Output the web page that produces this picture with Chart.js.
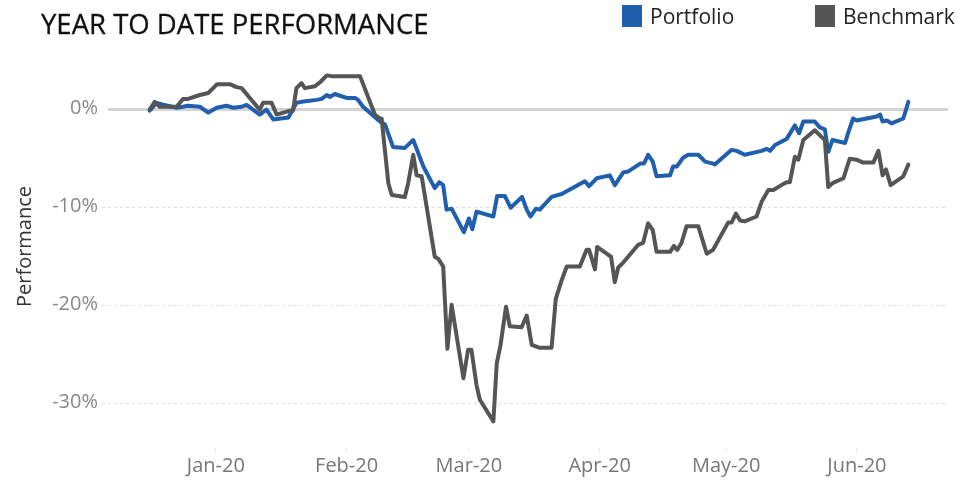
<!DOCTYPE html>
<html>
<head>
<meta charset="utf-8">
<script src="https://cdn.jsdelivr.net/npm/chart.js@4.4.1/dist/chart.umd.min.js"></script>
<style>
    html, body { margin: 0; padding: 0; background: #fff; }
    #wrap { position: relative; width: 972px; height: 480px; font-family: "Open Sans", sans-serif; }
    #chart { position: absolute; left: 0; top: 0; }
    #title { position: absolute; left: 41px; top: 5px; font-size: 27.5px; color: #111; white-space: nowrap; -webkit-text-stroke: 0.3px #111; }
    .key { position: absolute; top: 2px; font-size: 21px; color: #222; display: flex; align-items: center; white-space: nowrap; }
    .key span { display: inline-block; width: 20px; height: 22px; margin-right: 8px; }
</style>
</head>
<body>
<div id="wrap">
    <canvas id="chart" width="972" height="480"></canvas>
    <div id="title">YEAR TO DATE PERFORMANCE</div>
    <div class="key" style="left:622px"><span id="keyPortfolio"></span>Portfolio</div>
    <div class="key" style="left:815px"><span id="keyBenchmark"></span>Benchmark</div>
</div>
<script>
// x = days since 1 Jan 2020, y = % performance year to date
const portfolioDays = [
    -15.7, -14.1, -12.5, -9.3, -7.8, -6.6, -3.8, -1.8, 0.2, 2.5,
    4.1, 6.1, 7.3, 10.4, 12.0, 13.6, 17.2, 19.1, 20.3, 23.9,
    25.1, 26.3, 27.0, 28.2, 31.0, 33.0, 33.7, 34.9, 38.9, 40.1,
    42.0, 44.8, 46.8, 49.2, 51.9, 53.0, 53.9, 54.7, 55.9, 58.8,
    60.0, 60.8, 61.8, 65.8, 66.7, 68.5, 69.9, 72.6, 73.7, 74.6,
    75.9, 76.8, 79.6, 81.2, 82.0, 87.5, 88.5, 90.3, 93.4, 94.6,
    96.6, 97.8, 100.6, 101.5, 102.5, 103.6, 104.5, 107.7, 108.4, 109.3,
    110.8, 112.0, 114.4, 116.0, 117.9, 118.3, 122.3, 123.5, 125.4, 129.4,
    130.6, 131.4, 132.6, 135.3, 137.3, 138.3, 139.3, 142.0, 143.2, 144.4,
    145.2, 146.2, 149.2, 149.9, 151.1, 151.9, 156.7, 157.5, 158.1, 159.1,
    160.2, 163.0, 164.2,
];
const portfolioValues = [
    -0.2, 0.6, 0.4, 0.1, 0.2, 0.3, 0.2, -0.4, 0.1, 0.3,
    0.1, 0.2, 0.4, -0.6, -0.1, -1.1, -0.9, 0.6, 0.7, 0.9,
    1.0, 1.4, 1.2, 1.5, 1.1, 1.1, 0.9, 0.2, -1.3, -1.6,
    -3.9, -4.0, -3.2, -5.9, -8.1, -7.5, -7.8, -10.3, -10.2, -12.6,
    -11.2, -12.3, -10.5, -11.0, -8.9, -8.9, -10.1, -9.0, -10.3, -11.0,
    -10.2, -10.3, -9.0, -8.8, -8.7, -7.4, -7.9, -7.1, -6.8, -7.8,
    -6.5, -6.4, -5.6, -5.6, -4.7, -5.4, -6.9, -6.8, -5.9, -5.9,
    -5.0, -4.7, -4.7, -5.4, -5.6, -5.7, -4.2, -4.3, -4.7, -4.3,
    -4.1, -4.3, -3.7, -3.1, -1.7, -2.5, -1.3, -1.3, -1.9, -2.1,
    -4.4, -3.2, -3.5, -2.5, -1.0, -1.2, -0.8, -0.6, -1.3, -1.2,
    -1.5, -1.0, 0.7,
];
const benchmarkDays = [
    -15.7, -14.5, -13.3, -9.3, -7.8, -6.6, -3.8, -1.8, 0.3, 3.3,
    4.9, 6.1, 10.4, 11.2, 13.2, 14.4, 17.6, 18.3, 19.1, 20.3,
    21.1, 23.5, 24.7, 26.3, 27.8, 33.7, 34.2, 37.7, 38.9, 39.3,
    40.9, 41.7, 44.8, 45.6, 46.8, 47.6, 48.8, 51.9, 52.7, 53.9,
    54.9, 55.9, 58.7, 59.8, 60.6, 61.8, 62.6, 65.8, 66.6, 67.5,
    68.8, 69.7, 72.5, 73.7, 74.9, 76.8, 79.6, 80.6, 82.0, 83.2,
    86.3, 87.9, 88.5, 89.9, 90.4, 93.0, 93.7, 94.6, 95.4, 96.6,
    100.1, 101.3, 102.5, 103.6, 104.5, 107.7, 108.6, 109.4, 110.4, 111.6,
    114.4, 116.4, 117.9, 121.5, 122.3, 123.3, 124.3, 125.4, 128.2, 129.4,
    131.0, 132.2, 133.7, 135.3, 136.1, 137.3, 138.1, 139.3, 142.0, 144.4,
    145.2, 146.2, 148.8, 150.3, 151.9, 153.5, 155.9, 157.1, 158.1, 158.9,
    160.0, 163.0, 164.2,
];
const benchmarkValues = [
    -0.1, 0.7, 0.2, 0.2, 1.0, 1.0, 1.4, 1.6, 2.5, 2.5,
    2.2, 2.1, -0.1, 0.6, 0.6, -0.6, -0.2, -0.2, 2.1, 2.6,
    2.1, 2.3, 2.7, 3.4, 3.3, 3.3, 3.3, -0.6, -1.0, -1.0,
    -7.6, -8.8, -9.0, -7.6, -4.7, -6.8, -6.9, -15.1, -15.3, -16.1,
    -24.5, -20.0, -27.5, -24.6, -24.6, -28.2, -29.7, -31.9, -26.0, -24.1,
    -20.2, -22.2, -22.3, -21.1, -24.1, -24.4, -24.4, -19.4, -17.5, -16.1,
    -16.1, -14.4, -14.4, -16.4, -14.1, -14.9, -15.1, -17.7, -16.2, -15.7,
    -13.9, -13.7, -11.7, -12.4, -14.6, -14.6, -14.0, -14.4, -13.7, -12.0,
    -12.0, -14.8, -14.4, -11.6, -11.6, -10.7, -11.4, -11.5, -11.0, -9.5,
    -8.3, -8.3, -7.9, -7.5, -7.5, -4.9, -5.2, -3.2, -2.2, -3.2,
    -8.0, -7.6, -7.1, -5.1, -5.2, -5.5, -5.5, -4.3, -6.8, -6.2,
    -7.8, -6.9, -5.7,
];

const monthTicks = [0, 31, 60, 91, 121, 152];
const monthLabels = ['Jan-20', 'Feb-20', 'Mar-20', 'Apr-20', 'May-20', 'Jun-20'];
const yTicks = [0, -10, -20, -30];

const COLORS = {
    portfolio: '#1f5fad',
    benchmark: '#555555',
};

document.getElementById('keyPortfolio').style.background = COLORS.portfolio;
document.getElementById('keyBenchmark').style.background = COLORS.benchmark;

const toPoints = (days, values) => days.map((d, i) => ({ x: d, y: values[i] }));

// zero line solid, other levels dashed
const gridLines = {
    id: 'gridLines',
    beforeDatasetsDraw(chart) {
        const { ctx, chartArea, scales: { y } } = chart;
        ctx.save();
        yTicks.forEach((v) => {
            const py = Math.round(y.getPixelForValue(v)) + 0.5;
            ctx.beginPath();
            if (v === 0) {
                ctx.setLineDash([]);
                ctx.lineWidth = 3;
                ctx.strokeStyle = '#d4d4d4';
                ctx.moveTo(chartArea.left + 6, py);
            } else {
                ctx.setLineDash([3, 3]);
                ctx.lineWidth = 1;
                ctx.strokeStyle = '#dcdcdc';
                ctx.moveTo(chartArea.left, py);
            }
            ctx.lineTo(chartArea.right, py);
            ctx.stroke();
        });
        ctx.restore();
    },
};

const lineStyle = {
    borderWidth: 4,
    pointRadius: 0,
    tension: 0,
    borderJoinStyle: 'round',
    borderCapStyle: 'round',
    fill: false,
};

new Chart(document.getElementById('chart'), {
    type: 'line',
    data: {
        datasets: [
            { label: 'Benchmark', data: toPoints(benchmarkDays, benchmarkValues), borderColor: COLORS.benchmark, ...lineStyle },
            { label: 'Portfolio', data: toPoints(portfolioDays, portfolioValues), borderColor: COLORS.portfolio, ...lineStyle },
        ],
    },
    options: {
        responsive: false,
        animation: false,
        layout: { padding: { top: 45, right: 24, left: 0, bottom: 0 } },
        plugins: { legend: { display: false }, tooltip: { enabled: false } },
        scales: {
            x: {
                type: 'linear',
                min: -27,
                max: 173.6,
                afterBuildTicks: (s) => { s.ticks = monthTicks.map((v) => ({ value: v })); },
                afterFit: (s) => { s.height = 32; },
                grid: { drawOnChartArea: false, drawTicks: true, tickLength: 4, color: '#e6e6e6' },
                border: { display: false },
                ticks: {
                    autoSkip: false,
                    maxRotation: 0,
                    padding: 2,
                    color: '#777',
                    font: { family: 'Open Sans', size: 20 },
                    callback: (v) => monthLabels[monthTicks.indexOf(v)] ?? '',
                },
            },
            y: {
                min: -34.62,
                max: 6.5,
                afterBuildTicks: (s) => { s.ticks = yTicks.map((v) => ({ value: v })); },
                afterFit: (s) => { s.width = 102; },
                grid: { display: false, drawTicks: false },
                border: { display: false },
                ticks: {
                    padding: 4,
                    color: '#888',
                    font: { family: 'Open Sans', size: 20 },
                    callback: (v) => v + '%',
                },
                title: {
                    display: true,
                    text: 'Performance',
                    color: '#333',
                    font: { family: 'Open Sans', size: 20 },
                    padding: { top: 13, bottom: 0 },
                },
            },
        },
    },
    plugins: [gridLines],
});
</script>
</body>
</html>
